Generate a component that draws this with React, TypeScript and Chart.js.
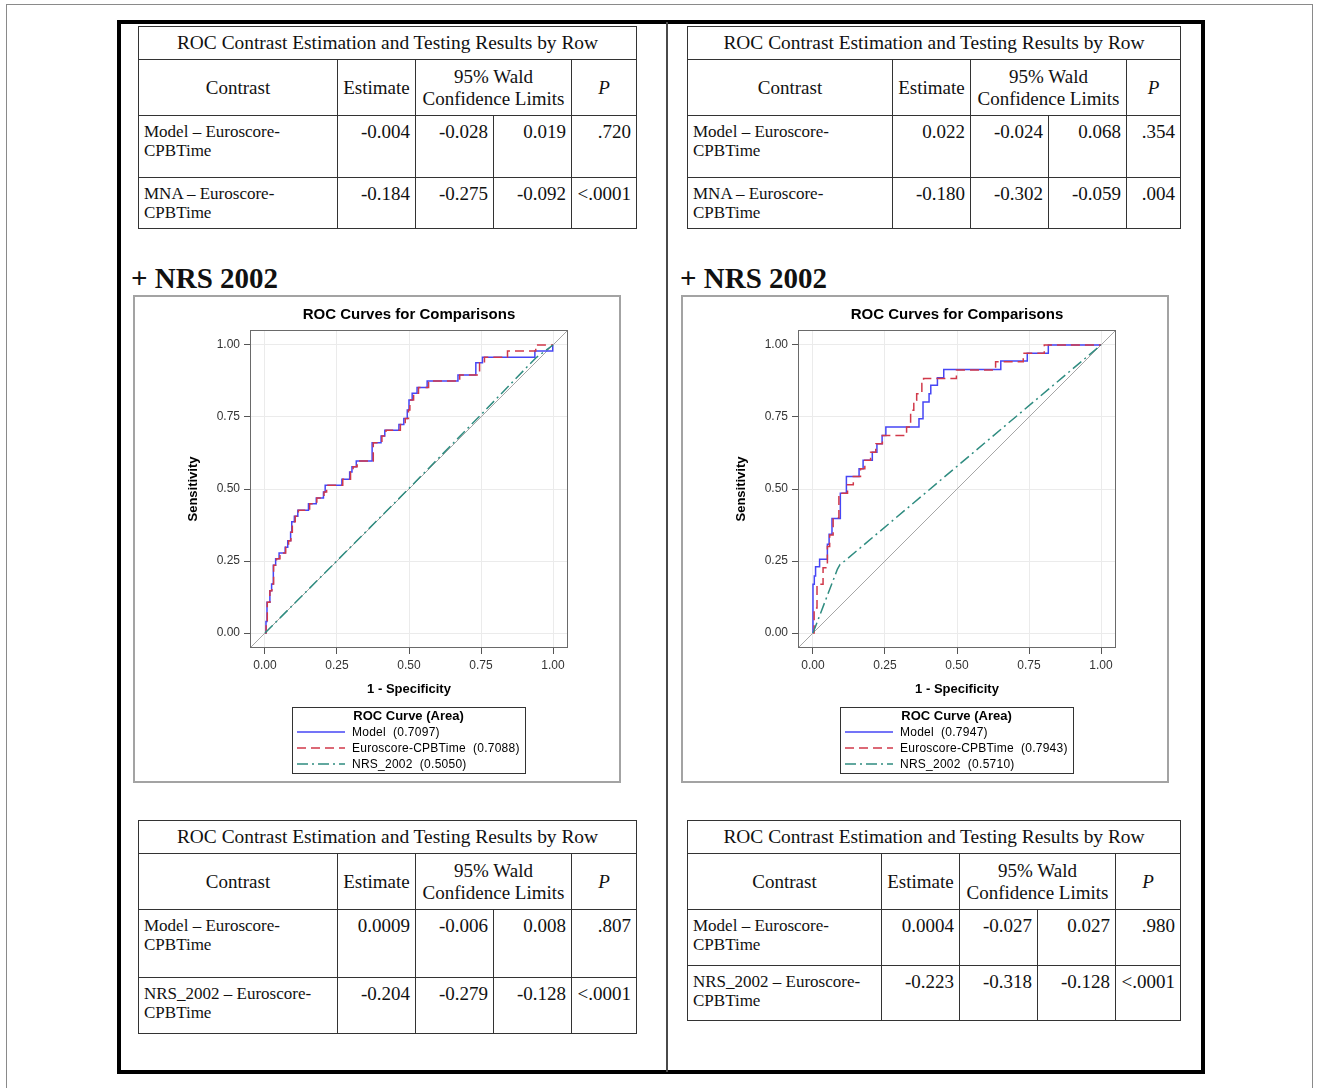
import React, { useEffect, useRef } from 'react';
import { Chart, registerables } from 'chart.js';
Chart.register(...registerables);

const SANS = "'Liberation Sans', Arial, Helvetica, sans-serif";
const SERIF = "'Liberation Serif', 'Times New Roman', serif";

// ---------- axis ----------
const AXIS_MIN = -0.052;
const AXIS_MAX = 1.052;
const tickValues = [0, 0.25, 0.5, 0.75, 1];
const tickLabels = ['0.00', '0.25', '0.50', '0.75', '1.00'];
const refLine = [AXIS_MIN, AXIS_MAX];

// ---------- legend ----------
const seriesNames = ['Model', 'Euroscore-CPBTime', 'NRS_2002'];
const areasLeft = [0.7097, 0.7088, 0.505];
const areasRight = [0.7947, 0.7943, 0.571];

// ---------- left ROC curves ----------
const modelFprL = [0, 0.0035, 0.007, 0.017, 0.023, 0.029, 0.037, 0.049, 0.07, 0.079, 0.089, 0.093, 0.102, 0.114, 0.151, 0.178, 0.203, 0.209, 0.267, 0.294, 0.302, 0.317, 0.372, 0.403, 0.416, 0.465, 0.482, 0.494, 0.5, 0.511, 0.528, 0.563, 0.67, 0.732, 0.755, 0.937, 0.999, 1.0];
const modelTprL = [0, 0.04, 0.107, 0.147, 0.17, 0.235, 0.258, 0.278, 0.298, 0.32, 0.35, 0.386, 0.405, 0.426, 0.449, 0.469, 0.49, 0.513, 0.534, 0.559, 0.577, 0.597, 0.661, 0.684, 0.704, 0.724, 0.745, 0.774, 0.809, 0.832, 0.852, 0.875, 0.896, 0.938, 0.957, 0.979, 1.0, 1.0];
const euroFprL = [0, 0.004, 0.008, 0.017, 0.024, 0.03, 0.04, 0.052, 0.072, 0.082, 0.09, 0.095, 0.105, 0.116, 0.155, 0.18, 0.205, 0.214, 0.27, 0.297, 0.306, 0.32, 0.376, 0.406, 0.42, 0.47, 0.487, 0.498, 0.503, 0.516, 0.533, 0.568, 0.676, 0.745, 0.762, 0.842, 0.94, 1.0];
const euroTprL = [0, 0.04, 0.107, 0.147, 0.17, 0.235, 0.258, 0.278, 0.298, 0.32, 0.35, 0.386, 0.405, 0.426, 0.449, 0.469, 0.49, 0.513, 0.534, 0.559, 0.577, 0.597, 0.661, 0.684, 0.704, 0.724, 0.745, 0.774, 0.809, 0.832, 0.852, 0.875, 0.896, 0.938, 0.957, 0.979, 1.0, 1.0];
const nrsFprL = [0, 0.25, 0.5, 0.75, 0.94, 1.0];
const nrsTprL = [0, 0.251, 0.502, 0.758, 0.955, 1.0];

// ---------- right ROC curves ----------
const modelFprR = [0, 0, 0.0046, 0.009, 0.023, 0.05, 0.056, 0.066, 0.095, 0.116, 0.16, 0.174, 0.206, 0.222, 0.24, 0.253, 0.368, 0.382, 0.403, 0.409, 0.432, 0.454, 0.652, 0.744, 0.817, 1.0];
const modelTprR = [0, 0.169, 0.198, 0.23, 0.256, 0.308, 0.343, 0.398, 0.485, 0.543, 0.57, 0.6, 0.628, 0.657, 0.686, 0.715, 0.744, 0.802, 0.831, 0.86, 0.886, 0.915, 0.944, 0.971, 1.0, 1.0];
const euroFprR = [0, 0.004, 0.014, 0.035, 0.05, 0.058, 0.07, 0.09, 0.12, 0.14, 0.165, 0.18, 0.2, 0.218, 0.241, 0.325, 0.339, 0.35, 0.36, 0.378, 0.384, 0.498, 0.634, 0.73, 0.803, 1.0];
const euroTprR = [0, 0.087, 0.169, 0.227, 0.3, 0.34, 0.4, 0.485, 0.515, 0.543, 0.57, 0.6, 0.628, 0.657, 0.686, 0.715, 0.773, 0.808, 0.831, 0.866, 0.884, 0.913, 0.942, 0.971, 1.0, 1.0];
const nrsFprR = [0, 0.085, 0.094, 0.11, 1.0];
const nrsTprR = [0, 0.222, 0.238, 0.25, 1.0];

// ---------- tables ----------
const tableTitle = 'ROC Contrast Estimation and Testing Results by Row';
const headContrast = 'Contrast';
const headEstimate = 'Estimate';
const headCI = ['95% Wald', 'Confidence Limits'];
const headP = 'P';

const tlLabels = [['Model – Euroscore-', 'CPBTime'], ['MNA – Euroscore-', 'CPBTime']];
const tlEst = ['-0.004', '-0.184'];
const tlLo = ['-0.028', '-0.275'];
const tlHi = ['0.019', '-0.092'];
const tlP = ['.720', '<.0001'];

const trLabels = [['Model – Euroscore-', 'CPBTime'], ['MNA – Euroscore-', 'CPBTime']];
const trEst = ['0.022', '-0.180'];
const trLo = ['-0.024', '-0.302'];
const trHi = ['0.068', '-0.059'];
const trP = ['.354', '.004'];

const blLabels = [['Model – Euroscore-', 'CPBTime'], ['NRS_2002 – Euroscore-', 'CPBTime']];
const blEst = ['0.0009', '-0.204'];
const blLo = ['-0.006', '-0.279'];
const blHi = ['0.008', '-0.128'];
const blP = ['.807', '<.0001'];

const brLabels = [['Model – Euroscore-', 'CPBTime'], ['NRS_2002 – Euroscore-', 'CPBTime']];
const brEst = ['0.0004', '-0.223'];
const brLo = ['-0.027', '-0.318'];
const brHi = ['0.027', '-0.128'];
const brP = ['.980', '<.0001'];

const BLUE = '#4646f5';
const RED = '#d1394a';
const TEAL = '#2f8c80';

const pts = (xs: number[], ys: number[]) => xs.map((x, i) => ({ x, y: ys[i] }));

const decorPlugin = {
  id: 'rocDecor',
  afterDatasetsDraw(chart: any) {
    const { ctx, chartArea: a } = chart;
    ctx.save();
    ctx.strokeStyle = '#6a6a6a';
    ctx.lineWidth = 1;
    ctx.strokeRect(Math.round(a.left) + 0.5, Math.round(a.top) + 0.5, Math.round(a.right - a.left) - 1, Math.round(a.bottom - a.top) - 1);
    ctx.restore();
  },
  afterDraw(chart: any, _args: any, opts: any) {
    const { ctx, chartArea: a } = chart;
    ctx.save();
    ctx.fillStyle = '#000';
    ctx.textAlign = 'center';
    ctx.textBaseline = 'middle';
    ctx.font = `bold 15px ${SANS}`;
    ctx.fillText(opts.title, (a.left + a.right) / 2, 18);

    const lx = 157, ly = 410, lw = 233, lh = 66;
    ctx.strokeStyle = '#333';
    ctx.lineWidth = 1;
    ctx.strokeRect(lx + 0.5, ly + 0.5, lw, lh);
    ctx.font = `bold 13px ${SANS}`;
    ctx.fillText(opts.legendTitle, lx + lw / 2, ly + 9);
    opts.items.forEach((it: any, i: number) => {
      const y = ly + 25 + i * 16;
      ctx.strokeStyle = it.color;
      ctx.lineWidth = 1.5;
      ctx.setLineDash(it.dash);
      ctx.beginPath();
      ctx.moveTo(lx + 5, y);
      ctx.lineTo(lx + 53, y);
      ctx.stroke();
      ctx.setLineDash([]);
      ctx.textAlign = 'left';
      ctx.font = `12px ${SANS}`;
      (ctx as any).letterSpacing = '0.25px';
      ctx.fillText(`${it.name}  (${it.area.toFixed(4)})`, lx + 60, y + 0.5);
      (ctx as any).letterSpacing = '0px';
    });
    ctx.restore();
  },
};

function RocChart(props: { model: [number[], number[]]; euro: [number[], number[]]; nrs: [number[], number[]]; areas: number[] }) {
  const ref = useRef<HTMLCanvasElement>(null);
  useEffect(() => {
    if (!ref.current) return;
    const dashes = [[], [9, 5], [11, 4, 2, 4]];
    const colors = [BLUE, RED, TEAL];
    const base = { pointRadius: 0, showLine: true, fill: false, tension: 0, borderWidth: 1.5 };
    const axis = (title: string, isX: boolean) => ({
      type: 'linear',
      min: AXIS_MIN,
      max: AXIS_MAX,
      afterBuildTicks: (s: any) => { s.ticks = tickValues.map((v) => ({ value: v })); },
      afterFit: (s: any) => { if (isX) s.height = 50; else s.width = 70; },
      ticks: {
        autoSkip: false,
        maxRotation: 0,
        padding: 4,
        color: '#333',
        font: { family: SANS, size: 12 },
        callback: (_v: any, i: number) => tickLabels[i],
      },
      grid: { color: '#ebebeb', lineWidth: 1, drawTicks: true, tickLength: 6, tickColor: '#555', tickWidth: 1 },
      border: { display: false },
      title: {
        display: true,
        text: title,
        color: '#000',
        font: { family: SANS, size: 13, weight: 'bold' },
        padding: isX ? { top: 0, bottom: 1.2 } : { top: 5.2, bottom: 0 },
      },
    });
    const chart = new Chart(ref.current, {
      type: 'scatter',
      data: {
        datasets: [
          { ...base, label: seriesNames[2], data: pts(props.nrs[0], props.nrs[1]), borderColor: TEAL, borderDash: dashes[2] },
          { ...base, label: seriesNames[1], data: pts(props.euro[0], props.euro[1]), borderColor: RED, borderDash: dashes[1], stepped: 'before' },
          { ...base, label: seriesNames[0], data: pts(props.model[0], props.model[1]), borderColor: BLUE, stepped: 'before' },
          { ...base, label: 'reference', data: pts(refLine, refLine), borderColor: '#a6a6a6', borderWidth: 1 },
        ],
      },
      options: {
        animation: false,
        responsive: false,
        events: [],
        layout: { padding: { left: 45, right: 51, top: 33, bottom: 83 } },
        scales: { x: axis('1 - Specificity', true), y: axis('Sensitivity', false) } as any,
        plugins: {
          legend: { display: false },
          tooltip: { enabled: false },
          title: { display: false },
          rocDecor: {
            title: 'ROC Curves for Comparisons',
            legendTitle: 'ROC Curve (Area)',
            items: seriesNames.map((n, i) => ({ name: n, area: props.areas[i], color: colors[i], dash: dashes[i] })),
          },
        } as any,
      },
      plugins: [decorPlugin],
    } as any);
    return () => chart.destroy();
  }, []);
  return <canvas ref={ref} width={484} height={484} style={{ display: 'block', width: 484, height: 484 }} />;
}

function ContrastTable(props: { cols: number[]; rows: number[]; labels: string[][]; est: string[]; lo: string[]; hi: string[]; p: string[] }) {
  const { cols, rows } = props;
  const cells: React.ReactNode[] = [];
  let k = 0;
  const cell = (c0: number, c1: number, r0: number, r1: number, content: React.ReactNode, style: React.CSSProperties) => {
    cells.push(
      <div
        key={k++}
        style={{
          position: 'absolute',
          left: cols[c0],
          top: rows[r0],
          width: cols[c1] - cols[c0] + 1,
          height: rows[r1] - rows[r0] + 1,
          border: '1px solid #333',
          boxSizing: 'border-box',
          fontFamily: SERIF,
          color: '#111',
          whiteSpace: 'nowrap',
          ...style,
        }}
      >
        {content}
      </div>
    );
  };
  const center: React.CSSProperties = { display: 'flex', alignItems: 'center', justifyContent: 'center', textAlign: 'center', fontSize: 19, lineHeight: '22px' };
  cell(0, 5, 0, 1, tableTitle, { ...center, fontSize: 19.4 });
  cell(0, 1, 1, 2, headContrast, center);
  cell(1, 2, 1, 2, headEstimate, center);
  cell(2, 4, 1, 2, <div>{headCI[0]}<br />{headCI[1]}</div>, center);
  cell(4, 5, 1, 2, <i>{headP}</i>, center);
  for (let r = 0; r < 2; r++) {
    cell(0, 1, 2 + r, 3 + r, <div>{props.labels[r][0]}<br />{props.labels[r][1]}</div>, { fontSize: 17, lineHeight: '19px', padding: '6px 0 0 5px' });
    const vals = [props.est[r], props.lo[r], props.hi[r], props.p[r]];
    vals.forEach((v, j) => {
      cell(1 + j, 2 + j, 2 + r, 3 + r, v, { fontSize: 19, lineHeight: '22px', textAlign: 'right', padding: '5px 5px 0 0' });
    });
  }
  return <>{cells}</>;
}

const heading: React.CSSProperties = { position: 'absolute', top: 262, fontFamily: SERIF, fontWeight: 'bold', fontSize: 29, lineHeight: '32px', color: '#111', whiteSpace: 'nowrap' };
const chartBox: React.CSSProperties = { position: 'absolute', top: 295, width: 488, height: 488, border: '2px solid #a3a3a3', boxSizing: 'border-box', background: '#fff' };

export default function App() {
  return (
    <div style={{ position: 'absolute', left: 0, top: 0, width: 1318, height: 1088, overflow: 'hidden', background: '#fff' }}>
      <div style={{ position: 'absolute', left: 6, top: 4, width: 1307, height: 1100, border: '1px solid #8a8a8a', boxSizing: 'border-box' }} />
      <div style={{ position: 'absolute', left: 117, top: 20, width: 1088, height: 1054, border: '4px solid #000', boxSizing: 'border-box' }} />
      <div style={{ position: 'absolute', left: 666, top: 22, width: 2, height: 1050, background: '#4a4a4a' }} />

      <ContrastTable cols={[138, 337, 415, 493, 571, 636]} rows={[26, 59, 115, 177, 228]} labels={tlLabels} est={tlEst} lo={tlLo} hi={tlHi} p={tlP} />
      <ContrastTable cols={[687, 892, 970, 1048, 1126, 1180]} rows={[26, 59, 115, 177, 228]} labels={trLabels} est={trEst} lo={trLo} hi={trHi} p={trP} />

      <div style={{ ...heading, left: 131 }}>+ NRS 2002</div>
      <div style={{ ...heading, left: 680 }}>+ NRS 2002</div>

      <div style={{ ...chartBox, left: 133 }}>
        <RocChart model={[modelFprL, modelTprL]} euro={[euroFprL, euroTprL]} nrs={[nrsFprL, nrsTprL]} areas={areasLeft} />
      </div>
      <div style={{ ...chartBox, left: 681 }}>
        <RocChart model={[modelFprR, modelTprR]} euro={[euroFprR, euroTprR]} nrs={[nrsFprR, nrsTprR]} areas={areasRight} />
      </div>

      <ContrastTable cols={[138, 337, 415, 493, 571, 636]} rows={[820, 853, 909, 977, 1033]} labels={blLabels} est={blEst} lo={blLo} hi={blHi} p={blP} />
      <ContrastTable cols={[687, 881, 959, 1037, 1115, 1180]} rows={[820, 853, 909, 965, 1020]} labels={brLabels} est={brEst} lo={brLo} hi={brHi} p={brP} />
    </div>
  );
}
